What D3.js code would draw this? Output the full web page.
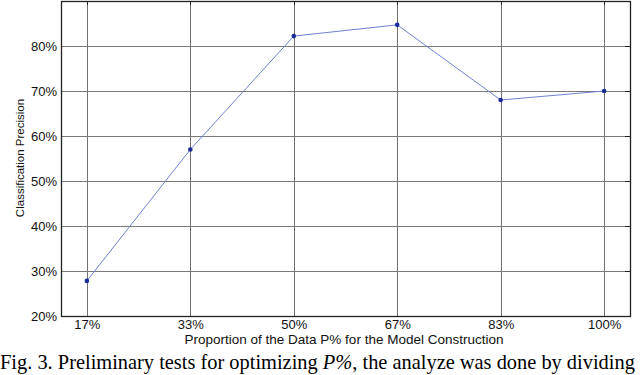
<!DOCTYPE html>
<html>
<head>
<meta charset="utf-8">
<script src="https://cdn.jsdelivr.net/npm/d3@7"></script>
<style>
  body { margin: 0; background: #fff; }
  svg { display: block; }
</style>
</head>
<body>
<div id="chart"></div>
<script>
// --- Data ---
const categories = ["17%", "33%", "50%", "67%", "83%", "100%"];
const precision = [27.8, 57.0, 82.2, 84.7, 68.0, 70.0];
const yTicks = [20, 30, 40, 50, 60, 70, 80];

// --- Layout ---
const width = 640, height = 375;
const plot = { left: 61, right: 630, top: 1, bottom: 316 };
const sansFont = "Liberation Sans, Arial, sans-serif";

const svg = d3.select("#chart").append("svg")
  .attr("width", width)
  .attr("height", height);

const x = d3.scaleLinear()
  .domain([-0.25, categories.length - 0.75])
  .range([plot.left, plot.right]);

const y = d3.scaleLinear()
  .domain([20, 90])
  .range([plot.bottom, plot.top]);

// --- Grid lines ---
const grid = svg.append("g").attr("class", "grid");

grid.selectAll(".vgrid")
  .data(d3.range(categories.length))
  .enter()
  .append("line")
  .attr("class", "vgrid")
  .attr("x1", i => Math.round(x(i)) + 0.5)
  .attr("x2", i => Math.round(x(i)) + 0.5)
  .attr("y1", plot.top)
  .attr("y2", plot.bottom)
  .style("stroke", "#707070")
  .style("stroke-width", "1px");

grid.selectAll(".hgrid")
  .data(yTicks.slice(1))
  .enter()
  .append("line")
  .attr("class", "hgrid")
  .attr("x1", plot.left)
  .attr("x2", plot.right)
  .attr("y1", d => Math.round(y(d)) + 0.5)
  .attr("y2", d => Math.round(y(d)) + 0.5)
  .style("stroke", "#7a7a7a")
  .style("stroke-width", "1.2px");

// Small inner tick marks on top and right edges
grid.selectAll(".ttick")
  .data(d3.range(categories.length))
  .enter()
  .append("line")
  .attr("x1", i => Math.round(x(i)) + 0.5)
  .attr("x2", i => Math.round(x(i)) + 0.5)
  .attr("y1", plot.top)
  .attr("y2", plot.top + 4)
  .style("stroke", "#222")
  .style("stroke-width", "1px");

grid.selectAll(".rtick")
  .data(yTicks.slice(1))
  .enter()
  .append("line")
  .attr("x1", plot.right - 5)
  .attr("x2", plot.right)
  .attr("y1", d => Math.round(y(d)) + 0.5)
  .attr("y2", d => Math.round(y(d)) + 0.5)
  .style("stroke", "#222")
  .style("stroke-width", "1px");

// Frame
svg.append("rect")
  .attr("x", plot.left + 0.5).attr("y", plot.top + 0.5)
  .attr("width", plot.right - plot.left)
  .attr("height", plot.bottom - plot.top)
  .style("fill", "none")
  .style("stroke", "#222")
  .style("stroke-width", "1.3px");

// --- Axes ---
const xAxis = d3.axisBottom(x)
  .tickValues(d3.range(categories.length))
  .tickFormat(i => categories[i])
  .tickSize(0).tickPadding(4);

svg.append("g")
  .attr("transform", `translate(0,${plot.bottom})`)
  .call(xAxis)
  .call(g => g.select(".domain").remove())
  .selectAll("text")
  .attr("font-family", sansFont)
  .attr("font-size", 13)
  .attr("fill", "#111");

const yAxis = d3.axisLeft(y)
  .tickValues(yTicks)
  .tickFormat(d => d + "%")
  .tickSize(0).tickPadding(4);

svg.append("g")
  .attr("transform", `translate(${plot.left},0)`)
  .call(yAxis)
  .call(g => g.select(".domain").remove())
  .selectAll("text")
  .attr("font-family", sansFont)
  .attr("font-size", 13)
  .attr("fill", "#111");

// Axis titles
svg.append("text")
  .attr("x", 344)
  .attr("y", 344)
  .attr("text-anchor", "middle")
  .attr("font-family", sansFont)
  .attr("font-size", 13.5)
  .attr("fill", "#111")
  .text("Proportion of the Data P% for the Model Construction");

svg.append("text")
  .attr("transform", "translate(24,158) rotate(-90)")
  .attr("text-anchor", "middle")
  .attr("font-family", sansFont)
  .attr("font-size", 11.5)
  .attr("fill", "#111")
  .text("Classification Precision");

// --- Line and markers ---
const line = d3.line()
  .x((d, i) => x(i))
  .y(d => y(d));

svg.append("path")
  .datum(precision)
  .attr("d", line)
  .style("fill", "none")
  .style("stroke", "#7081d0")
  .style("stroke-width", "1px");

svg.append("g")
  .selectAll("circle")
  .data(precision)
  .enter()
  .append("circle")
  .attr("cx", (d, i) => x(i))
  .attr("cy", d => y(d))
  .attr("r", 2.3)
  .style("fill", "#1d2b99");

// --- Caption ---
const caption = svg.append("text")
  .attr("x", 0)
  .attr("y", 369)
  .attr("font-family", "Liberation Serif, Times New Roman, serif")
  .attr("font-size", 20.4)
  .attr("fill", "#000");
caption.append("tspan").text("Fig. 3. Preliminary tests for optimizing ");
caption.append("tspan").attr("font-style", "italic").text("P%");
caption.append("tspan").text(", the analyze was done by dividing");
</script>
</body>
</html>
